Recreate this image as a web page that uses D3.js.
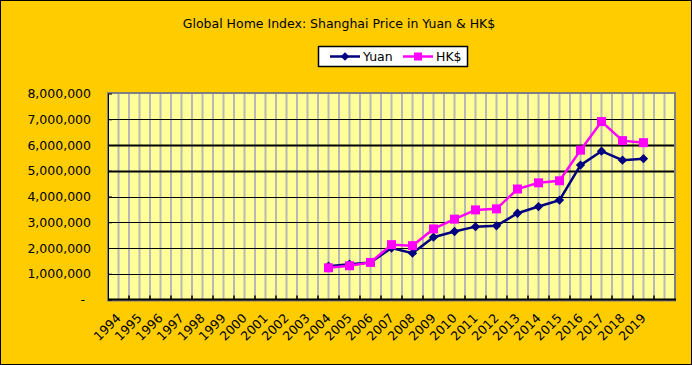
<!DOCTYPE html>
<html>
<head>
<meta charset="utf-8">
<script src="https://cdn.jsdelivr.net/npm/d3@7"></script>
<style>
  body { margin: 0; background: #fff; }
  svg { display: block; font-family: "DejaVu Sans", Verdana, sans-serif; }
</style>
</head>
<body>
<script>
var width = 692,
    height = 365;

// categories on the x axis (last slot is empty in the original)
var years = ["1994","1995","1996","1997","1998","1999","2000","2001","2002","2003",
             "2004","2005","2006","2007","2008","2009","2010","2011","2012","2013",
             "2014","2015","2016","2017","2018","2019",""];

// years that have data
var dataYears = ["2004","2005","2006","2007","2008","2009","2010","2011",
                 "2012","2013","2014","2015","2016","2017","2018","2019"];

var yuan = [1290000,1370000,1440000,2000000,1800000,2420000,2640000,2830000,
            2860000,3350000,3610000,3860000,5220000,5760000,5410000,5470000];

var hkd  = [1230000,1310000,1440000,2130000,2090000,2740000,3120000,3480000,
            3520000,4290000,4530000,4610000,5800000,6910000,6170000,6090000];

var seriesNames = ["Yuan", "HK$"];
var yTicks = [0,1000000,2000000,3000000,4000000,5000000,6000000,7000000,8000000];

var plot = {left: 108, right: 675, top: 93.5, bottom: 299.5};

var svg = d3.select("body").append("svg")
    .attr("width", width)
    .attr("height", height);

// chart background + frame
svg.append("rect")
    .attr("x", 0.5).attr("y", 0.5)
    .attr("width", width - 1).attr("height", height - 1)
    .attr("fill", "#FFCC00")
    .attr("stroke", "#000");

svg.append("text")
    .attr("x", 339)
    .attr("y", 28)
    .attr("text-anchor", "middle")
    .attr("font-size", "12.5px")
    .attr("fill", "#000")
    .text("Global Home Index: Shanghai Price in Yuan & HK$");

var x = d3.scaleBand()
    .domain(years)
    .range([plot.left, plot.right]);

var y = d3.scaleLinear()
    .domain([0, 8000000])
    .range([plot.bottom, plot.top]);

var g = svg.append("g");

// plot area
g.append("rect")
    .attr("x", plot.left).attr("y", plot.top)
    .attr("width", plot.right - plot.left)
    .attr("height", plot.bottom - plot.top)
    .attr("fill", "#FFFF99");

// vertical gray gridlines: at category edges and centres
var vlines = [];
years.forEach(function(c) {
    vlines.push(x(c));
    vlines.push(x(c) + x.bandwidth() / 2);
});
g.selectAll(".vgrid")
    .data(vlines.slice(1))
    .enter().append("line")
    .attr("class", "vgrid")
    .attr("x1", function(d) { return d; })
    .attr("x2", function(d) { return d; })
    .attr("y1", plot.top)
    .attr("y2", plot.bottom)
    .attr("stroke", "#B8B8B8")
    .attr("stroke-width", 2);

// horizontal gridlines
g.selectAll(".hgrid")
    .data(yTicks.slice(1, -1))
    .enter().append("line")
    .attr("class", "hgrid")
    .attr("x1", plot.left)
    .attr("x2", plot.right)
    .attr("y1", function(d) { return Math.round(y(d)) + 0.5; })
    .attr("y2", function(d) { return Math.round(y(d)) + 0.5; })
    .attr("stroke", "#000")
    .attr("stroke-width", function(d) { return (d === 5000000 || d === 6000000) ? 2 : 1; });

// plot border
g.append("rect")
    .attr("x", plot.left).attr("y", plot.top - 0.5)
    .attr("width", plot.right - plot.left)
    .attr("height", plot.bottom - plot.top + 1.5)
    .attr("fill", "none")
    .attr("stroke", "#808080")
    .attr("stroke-width", 2);

// y axis
var yAxis = g.append("g")
    .attr("transform", "translate(" + plot.left + ",0)")
    .call(d3.axisLeft(y)
        .tickValues(yTicks)
        .tickSizeInner(-4)
        .tickSizeOuter(0)
        .tickPadding(17)
        .tickFormat(function(d) { return d === 0 ? "-" : d3.format(",")(d); }));
yAxis.select(".domain").attr("stroke", "#000");
yAxis.selectAll(".tick line").attr("stroke", "#000");
yAxis.selectAll("text")
    .attr("font-size", "12.5px")
    .attr("font-family", "DejaVu Sans, Verdana, sans-serif")
    .attr("fill", "#000")
    .attr("dx", function(d) { return d === 0 ? -6 : 0; });

// x axis: ticks at category edges
g.selectAll(".xtick")
    .data(years.slice(1))
    .enter().append("line")
    .attr("class", "xtick")
    .attr("x1", function(d) { return x(d); })
    .attr("x2", function(d) { return x(d); })
    .attr("y1", plot.bottom - 4)
    .attr("y2", plot.bottom)
    .attr("stroke", "#000")
    .attr("stroke-width", 1.5);

g.append("line")
    .attr("x1", plot.left).attr("x2", plot.right + 1)
    .attr("y1", plot.bottom).attr("y2", plot.bottom)
    .attr("stroke", "#000")
    .attr("stroke-width", 2);

var xAxis = g.append("g")
    .attr("transform", "translate(0," + Math.round(plot.bottom) + ")")
    .call(d3.axisBottom(x).tickSize(0).tickPadding(0));
xAxis.select(".domain").remove();
xAxis.selectAll("text")
    .attr("font-size", "12.5px")
    .attr("font-family", "DejaVu Sans, Verdana, sans-serif")
    .attr("fill", "#000")
    .attr("text-anchor", "end")
    .attr("x", 0).attr("y", 0).attr("dy", 0)
    .attr("transform", "translate(3,19) rotate(-45)");

function cx(d) { return x(d) + x.bandwidth() / 2; }

var line = d3.line()
    .x(function(d) { return cx(d.year); })
    .y(function(d) { return y(d.value); });

var yuanData = dataYears.map(function(c, i) { return {year: c, value: yuan[i]}; });
var hkdData = dataYears.map(function(c, i) { return {year: c, value: hkd[i]}; });

// Yuan series
g.append("path")
    .datum(yuanData)
    .attr("fill", "none")
    .attr("stroke", "#000080")
    .attr("stroke-width", 2.5)
    .attr("d", line);
g.selectAll(".diamond")
    .data(yuanData)
    .enter().append("rect")
    .attr("class", "diamond")
    .attr("x", -3.3).attr("y", -3.3)
    .attr("width", 6.6).attr("height", 6.6)
    .attr("fill", "#000080")
    .attr("transform", function(d) {
        return "translate(" + cx(d.year) + "," + y(d.value) + ") rotate(45)";
    });

// HK$ series
g.append("path")
    .datum(hkdData)
    .attr("fill", "none")
    .attr("stroke", "#FF00FF")
    .attr("stroke-width", 2.5)
    .attr("d", line);
g.selectAll(".square")
    .data(hkdData)
    .enter().append("rect")
    .attr("class", "square")
    .attr("x", function(d) { return cx(d.year) - 4.5; })
    .attr("y", function(d) { return y(d.value) - 4.5; })
    .attr("width", 9).attr("height", 9)
    .attr("fill", "#FF00FF");

// legend
var legend = svg.append("g").attr("transform", "translate(318,46)");
legend.append("rect")
    .attr("x", 0.5).attr("y", 0.5)
    .attr("width", 149).attr("height", 20)
    .attr("fill", "#fff")
    .attr("stroke", "#000")
    .attr("stroke-width", 1.5);

var legendColors = ["#000080", "#FF00FF"];
var items = legend.selectAll(".item")
    .data(seriesNames)
    .enter().append("g")
    .attr("class", "item")
    .attr("transform", function(d, i) { return "translate(" + (12 + i * 73) + ",10.5)"; });
items.append("line")
    .attr("x1", 0).attr("x2", 30)
    .attr("stroke", function(d, i) { return legendColors[i]; })
    .attr("stroke-width", 2.5);
items.each(function(d, i) {
    var it = d3.select(this);
    if (i === 0) {
        it.append("rect")
            .attr("x", -3).attr("y", -3).attr("width", 6).attr("height", 6)
            .attr("fill", legendColors[i])
            .attr("transform", "translate(15,0) rotate(45)");
    } else {
        it.append("rect")
            .attr("x", 11).attr("y", -4).attr("width", 8).attr("height", 8)
            .attr("fill", legendColors[i]);
    }
});
items.append("text")
    .attr("x", 33)
    .attr("y", 4.5)
    .attr("font-size", "12.5px")
    .attr("fill", "#000")
    .text(function(d) { return d; });
</script>
</body>
</html>
